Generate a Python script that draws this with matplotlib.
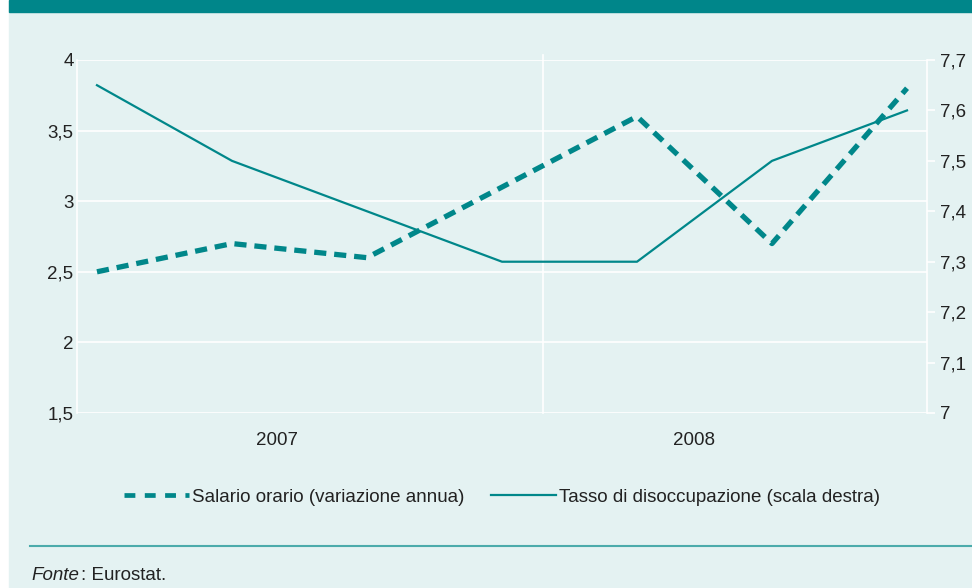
import numpy as np
import matplotlib.pyplot as plt
from matplotlib.patches import Rectangle
from matplotlib.lines import Line2D
from matplotlib.ticker import FuncFormatter

plt.rcParams['font.family'] = ['Liberation Sans', 'DejaVu Sans']

# Dati
periodi = np.arange(7)
salario = [2.5, 2.7, 2.6, 3.1, 3.6, 2.7, 3.8]           # variazione annua (scala sinistra)
disoccupazione = [7.65, 7.5, 7.4, 7.3, 7.3, 7.5, 7.6]   # tasso (scala destra)
anni = ['2007', '2008']
pos_anni = [1.33, 4.42]
cambio_anno = 3.3

teal = '#00878A'
sfondo = '#E4F2F2'
testo = '#222222'
fs = 13.5

fig = plt.figure(figsize=(9.72, 5.88), dpi=100)
fig.patches.append(Rectangle((9 / 972, 0), 1, 1, transform=fig.transFigure,
                             color=sfondo, zorder=-10))
fig.patches.append(Rectangle((9 / 972, 1 - 12 / 588), 1, 12 / 588, transform=fig.transFigure,
                             color='#00868A', zorder=-9))

ax = fig.add_axes([77 / 972, 1 - 413 / 588, 850 / 972, 353 / 588])
ax.set_facecolor(sfondo)
ax2 = ax.twinx()

virgola = FuncFormatter(lambda v, p: ('%g' % round(v, 2)).replace('.', ','))

# Salario orario
ax.plot(periodi, salario, color=teal, lw=3.8, linestyle=(0, (2.3, 1.5)),
        dash_capstyle='butt', zorder=3)
ax.set_ylim(1.5, 4)
ax.set_yticks([1.5, 2, 2.5, 3, 3.5, 4])
ax.yaxis.set_major_formatter(virgola)
ax.grid(axis='y', color='white', lw=1.2)
ax.set_axisbelow(True)
ax.set_xlim(-0.148, 6.148)
ax.set_xticks(pos_anni, anni)
ax.tick_params(axis='y', length=0, labelsize=fs, pad=2.5, labelcolor=testo)
ax.tick_params(axis='x', length=0, labelsize=fs, pad=14, labelcolor=testo)
ax.axvline(cambio_anno, ymax=1.014, color='white', lw=1.2, clip_on=False, zorder=1)
for s in ['top', 'right', 'bottom']:
    ax.spines[s].set_visible(False)
ax.spines['left'].set_color('white')
ax.spines['left'].set_linewidth(1.2)

# Tasso di disoccupazione
ax2.plot(periodi, disoccupazione, color=teal, lw=1.6, zorder=3)
ax2.set_ylim(7, 7.7)
ax2.set_yticks(np.arange(7, 7.71, 0.1))
ax2.yaxis.set_major_formatter(virgola)
ax2.tick_params(axis='y', length=5.5, width=1.2, color='white', labelsize=fs, pad=4,
                labelcolor=testo)
for s in ['top', 'left', 'bottom']:
    ax2.spines[s].set_visible(False)
ax2.spines['right'].set_color('white')
ax2.spines['right'].set_linewidth(1.2)

# Legenda
maniglie = [Line2D([], [], color=teal, lw=3.4, linestyle=(0, (2.3, 2.0)), dash_capstyle='butt'),
            Line2D([], [], color=teal, lw=1.6)]
etichette = ['Salario orario (variazione annua)', 'Tasso di disoccupazione (scala destra)']
fig.legend(maniglie, etichette, loc='center', bbox_to_anchor=(502 / 972, 1 - 497 / 588),
           ncol=2, frameon=False, fontsize=fs, handlelength=3.47, handletextpad=0.15,
           columnspacing=1.45, labelcolor=testo)

# Fonte
fig.add_artist(Line2D([30 / 972, 1], [1 - 546 / 588] * 2, color='#4BABAB', lw=1.5))
fonte = fig.text(31 / 972, 1 - 576 / 588, 'Fonte', fontsize=fs, style='italic',
                 va='center', color=testo)
fig.add_artist(plt.Annotation(': Eurostat.', xy=(1, 0.5), xycoords=fonte,
                              xytext=(1.5, 0), textcoords='offset points',
                              fontsize=fs, color=testo, va='center', ha='left'))

fig.savefig('out.png', dpi=100, facecolor='white')
